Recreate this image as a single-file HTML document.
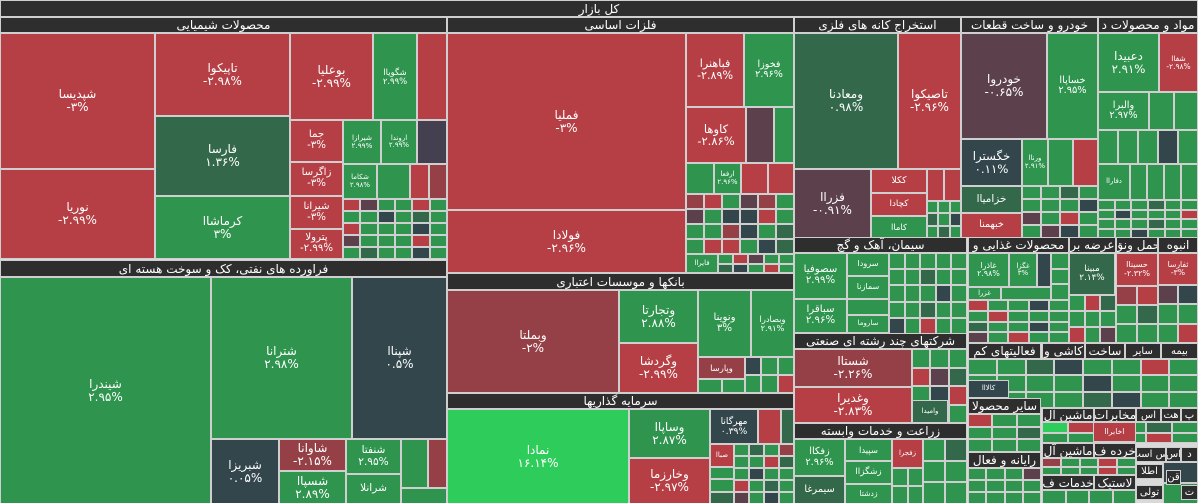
<!DOCTYPE html>
<html><head><meta charset="utf-8">
<style>
html,body{margin:0;padding:0;background:#e6e6e6;}
#tm{position:relative;width:1198px;height:503px;overflow:hidden;background:#d9d9d9;font-family:"DejaVu Sans","Liberation Sans",sans-serif;}
.c{position:absolute;box-sizing:border-box;border:1px solid #cfcfcf;display:flex;flex-direction:column;align-items:center;justify-content:center;color:#fff;text-align:center;line-height:1.05;overflow:hidden;white-space:nowrap;}
.h{position:absolute;box-sizing:border-box;background:#2e2e2e;color:#fff;border:1px solid #cfcfcf;display:flex;align-items:center;justify-content:center;font-size:12px;overflow:hidden;white-space:nowrap;}
</style></head><body>
<div id="tm"></div>
<script>
const COLORS={r:"#b53f45",g:"#2e944e",d:"#33694a",s:"#33464c",p:"#5c414d",m:"#944046",b:"#2ecc5a",k:"#444050"};
const headers=[
[0,0,1197,16,"کل بازار"],
[0,17,446,32,"محصولات شیمیایی"],
[0,260,446,276,"فراورده های نفتی، کک و سوخت هسته ای"],
[447,17,793,32,"فلزات اساسی"],
[447,273,793,289,"بانکها و موسسات اعتباری"],
[447,393,793,408,"سرمایه گذاریها"],
[794,17,960,32,"استخراج کانه های فلزی"],
[961,17,1097,32,"خودرو و ساخت قطعات"],
[1098,17,1197,32,"مواد و محصولات د"],
[794,237,966,252,"سیمان، آهک و گچ"],
[968,237,1068,252,"محصولات غذایی و"],
[1069,237,1115,252,"عرضه بر"],
[1116,237,1157,252,"حمل ونق"],
[1158,237,1197,252,"انبوه"],
[794,333,966,348,"شرکتهای چند رشته ای صنعتی"],
[794,423,966,438,"زراعت و خدمات وابسته"],
[968,343,1040,358,"فعالیتهای کم"],
[1042,343,1084,358,"کاشی و"],
[1085,343,1124,358,"ساخت"],
[1125,343,1160,358,"سایر"],
[1161,343,1197,358,"بیمه"],
[968,398,1040,413,"سایر محصولا"],
[968,452,1040,467,"رایانه و فعال"],
[1042,408,1093,421,"ماشین آل"],
[1094,408,1135,421,"مخابرات"],
[1136,408,1160,421,"اس"],
[1161,408,1180,421,"هت"],
[1181,408,1197,421,"پ"],
[1042,443,1093,457,"ماشین آل"],
[1094,443,1135,457,"خرده ف"],
[1136,447,1165,461,"اس است"],
[1166,447,1180,461,"اس"],
[1181,447,1197,461,"د"],
[1042,475,1093,489,"خدمات ف"],
[1094,475,1135,489,"لاستیک"],
[1136,464,1162,478,"اطلا"],
[1166,470,1180,484,"قن"],
[1136,485,1162,499,"تولی"],
[1181,485,1197,499,"ت"]
];
const fills=[
[343,199,446,258,6,5,"rpggrgggsgdgrgggsgpgggrggdggsg"],
[410,164,446,198,2,1,"rm"],
[686,194,793,253,6,4,"mrgpmgpgssrgggmsgdgrrgsdgpgg"],
[718,254,793,272,5,2,"grpggdsgrg"],
[745,357,793,392,3,2,"sggggr"],
[698,379,744,392,2,1,"gg"],
[734,444,793,503,4,5,"gdgmggrdgsggrgdgpgsg"],
[710,467,733,503,1,3,"ggd"],
[781,409,793,443,1,1,"d"],
[927,169,960,200,2,1,"rr"],
[927,201,960,237,3,3,"gggdgsgdg"],
[1022,186,1097,237,4,4,"ggdggggspgrggpsg"],
[1098,130,1197,163,5,1,"gggsg"],
[1130,164,1197,199,4,1,"gggg"],
[1098,200,1197,237,6,4,"gggdgggsgggrgggdggggsggg"],
[1149,92,1197,129,2,1,"gg"],
[889,253,966,333,5,5,"gggggggdgggggsgggdggsgrgg"],
[847,299,888,314,1,1,"g"],
[912,349,966,422,3,4,"gggrpdgsrggg"],
[923,439,966,503,2,3,"gdgggg"],
[892,468,922,503,2,2,"gggg"],
[968,300,1068,342,5,4,"rggsggrgggdggsgpgrgg"],
[1051,253,1068,299,1,3,"ggg"],
[1069,295,1115,342,3,3,"grdgggrgp"],
[1116,286,1157,342,2,3,"mrgdgg"],
[1158,285,1197,342,2,3,"psgggr"],
[968,359,1197,407,8,3,"ggdsggrgggggsgggrgggdsgg"],
[968,414,1040,451,3,3,"rggggdggg"],
[968,468,1040,503,4,3,"gggpgggggggg"],
[1042,422,1197,442,6,2,"brggdgggsgrg"],
[1042,458,1135,474,5,2,"mggrggggrg"],
[1042,490,1135,503,4,1,"gggg"],
[1163,462,1197,503,1,2,"sg"]
];
const leaves=[
[0,33,154,168,"r","شپدیس1","-3%"],
[0,169,154,258,"r","نوری1","-2.99%"],
[155,33,289,115,"r","تاپیکو1","-2.98%"],
[155,116,289,195,"d","فارس1","1.36%"],
[155,196,289,258,"g","کرماشا1","3%"],
[290,33,372,119,"r","بوعلی1","-2.99%"],
[373,33,416,119,"g","شگویا1","2.99%"],
[417,33,446,119,"r","",""],
[290,120,342,161,"r","جم1","-3%"],
[290,162,342,195,"r","زاگرس1","-3%"],
[290,196,342,228,"r","شیران1","-3%"],
[290,229,342,258,"r","پترول1","-2.99%"],
[343,120,380,163,"g","شیراز1","2.99%"],
[381,120,416,163,"g","اروند1","2.99%"],
[417,120,446,163,"k","",""],
[343,164,376,198,"g","شکام1","2.98%"],
[377,164,409,198,"g","",""],
[0,277,210,503,"g","شیندر1","2.95%"],
[211,277,351,438,"g","شتران1","2.98%"],
[352,277,446,438,"s","شپنا1","0.5%"],
[211,439,278,503,"s","شبریز1","0.05%"],
[279,439,345,470,"m","شاوان1","-2.15%"],
[279,471,345,503,"g","شسپا1","2.89%"],
[346,439,400,473,"g","شنفت1","2.95%"],
[346,474,400,503,"g","شرانل1",""],
[401,439,427,487,"g","",""],
[428,439,446,487,"m","",""],
[401,488,446,503,"g","",""],
[447,33,685,209,"r","فملی1","-3%"],
[447,210,685,272,"r","فولاد1","-2.96%"],
[686,33,743,106,"r","فباهنر1","-2.89%"],
[744,33,793,106,"g","فخوز1","2.96%"],
[686,107,745,162,"r","کاوه1","-2.86%"],
[746,107,773,162,"p","",""],
[774,107,793,162,"g","",""],
[686,163,713,193,"g","",""],
[714,163,740,193,"g","ارفع1","2.96%"],
[741,163,767,193,"r","",""],
[768,163,793,193,"r","",""],
[686,254,717,272,"g","فایرا1",""],
[447,290,618,392,"m","وبملت1","-2%"],
[619,290,697,342,"g","وتجارت1","2.88%"],
[619,343,697,392,"r","وگردش1","-2.99%"],
[698,290,750,356,"g","ونوین1","3%"],
[751,290,793,356,"g","وبصادر1","2.91%"],
[698,357,744,378,"m","وپارس1",""],
[447,409,628,503,"b","نماد1","16.14%"],
[629,409,709,457,"g","وساپا1","2.87%"],
[629,458,709,503,"r","وخارزم1","-2.97%"],
[710,409,757,443,"s","مهرگان1","0.39%"],
[758,409,780,443,"r","",""],
[710,444,733,466,"r","صبا1",""],
[794,33,897,168,"d","ومعادن1","0.98%"],
[898,33,960,168,"r","تاصیکو1","-2.96%"],
[794,169,870,237,"p","فزرا1","-0.91%"],
[871,169,926,192,"r","ککل1",""],
[871,193,926,215,"r","کچاد1",""],
[871,216,926,237,"g","کاما1",""],
[961,33,1046,138,"p","خودرو1","-0.65%"],
[1047,33,1097,138,"g","خساپا1","2.95%"],
[961,139,1021,185,"s","خگستر1","0.11%"],
[961,186,1021,212,"d","خزامیا1",""],
[961,213,1021,237,"r","خبهمن1",""],
[1022,139,1047,185,"g","ورنا1","2.91%"],
[1048,139,1072,185,"g","",""],
[1073,139,1097,185,"r","",""],
[1098,33,1158,91,"g","دعبید1","2.91%"],
[1159,33,1197,91,"r","شفا1","-2.98%"],
[1098,92,1148,129,"g","والبر1","2.97%"],
[1098,164,1129,199,"g","دفارا1",""],
[794,253,846,298,"g","سصوفی1","2.99%"],
[794,299,846,332,"g","سباقر1","2.96%"],
[847,253,888,275,"g","سرود1",""],
[847,276,888,298,"g","سمازن1",""],
[847,315,888,332,"g","ساروم1",""],
[794,349,911,386,"m","شستا1","-2.26%"],
[794,387,911,422,"r","وغدیر1","-2.83%"],
[912,400,947,422,"d","وامید1",""],
[794,439,844,475,"g","زفکا1","2.96%"],
[794,476,844,503,"d","سیمرغ1",""],
[845,439,891,460,"g","سپید1",""],
[845,461,891,483,"g","زشگزا1",""],
[845,484,891,503,"g","زدشت1",""],
[892,439,922,467,"r","زفجر1",""],
[968,253,1008,286,"g","غاذر1","2.98%"],
[1009,253,1036,286,"g","غگز1","3%"],
[1037,253,1050,286,"s","",""],
[968,287,1000,299,"g","غزر1",""],
[1001,287,1050,299,"g","",""],
[1069,253,1114,294,"d","مبین1","2.14%"],
[1116,253,1157,285,"r","حسینا1","-2.32%"],
[1158,253,1197,284,"r","ثفارس1","-3%"],
[968,380,1008,397,"s","کالاا1",""],
[1093,422,1135,441,"r","اخابرا1",""]
];
const tm=document.getElementById('tm');
const FA="۰۱۲۳۴۵۶۷۸۹";
function fa(s){return s.replace(/[0-9]/g,d=>FA[+d]);}
function box(x1,y1,x2,y2){return{l:x1,t:y1,w:x2-x1+1,h:y2-y1+1};}
fills.forEach(f=>{
  const [x1,y1,x2,y2,cols,rows,pat]=f;
  const W=x2-x1+1,H=y2-y1+1;
  let i=0;
  for(let r=0;r<rows;r++)for(let c=0;c<cols;c++){
    const x=x1+Math.round(W*c/cols),xe=x1+Math.round(W*(c+1)/cols);
    const y=y1+Math.round(H*r/rows),ye=y1+Math.round(H*(r+1)/rows);
    const el=document.createElement('div');
    el.className='c';
    el.style.cssText=`left:${x}px;top:${y}px;width:${xe-x}px;height:${ye-y}px;background:${COLORS[pat[i%pat.length]]}`;
    
    
    tm.appendChild(el);i++;
  }
});
leaves.forEach(l=>{
  const [x1,y1,x2,y2,c,sym,chg]=l;
  const b=box(x1,y1,x2,y2);
  const el=document.createElement('div');
  el.className='c';
  const fs=Math.max(7,Math.min(12,b.w/5.2,b.h/2.6));
  el.style.cssText=`left:${b.l}px;top:${b.t}px;width:${b.w}px;height:${b.h}px;background:${COLORS[c]};font-size:${fs}px`;
  if(sym){const s=document.createElement('div');s.textContent=sym.replace('1','ا');el.appendChild(s);}
  if(chg){const s=document.createElement('div');s.textContent=fa(chg);s.style.direction='ltr';el.appendChild(s);}
  
  
  tm.appendChild(el);
});
headers.forEach(h=>{
  const [x1,y1,x2,y2,t]=h;
  const b=box(x1,y1,x2,y2);
  const el=document.createElement('div');
  el.className='h';
  el.style.cssText=`left:${b.l}px;top:${b.t}px;width:${b.w}px;height:${b.h}px;`+(b.w<40?'font-size:10px;':'');
  el.textContent=t;
  
  
  tm.appendChild(el);
});
</script>
</body></html>
